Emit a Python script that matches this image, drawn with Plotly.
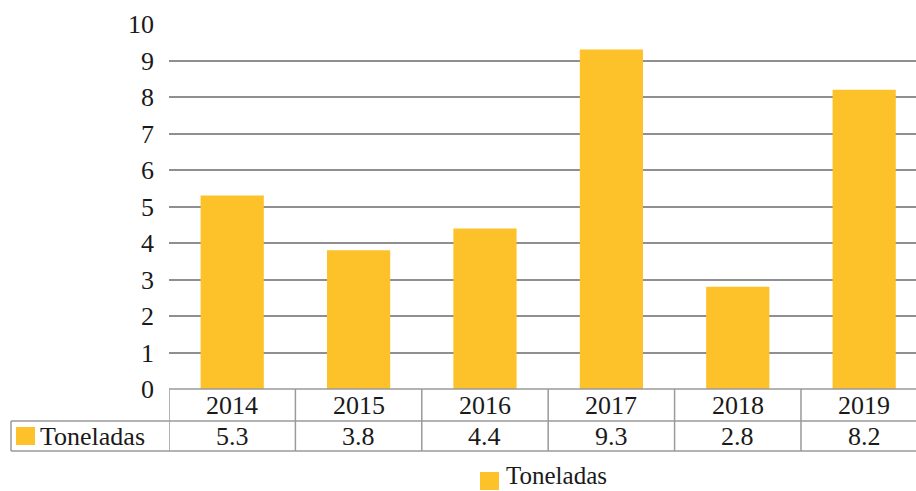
import plotly.graph_objects as go

years = ["2014", "2015", "2016", "2017", "2018", "2019"]
toneladas = [5.3, 3.8, 4.4, 9.3, 2.8, 8.2]
value_labels = ["5.3", "3.8", "4.4", "9.3", "2.8", "8.2"]
series_name = "Toneladas"
y_ticks = list(range(0, 11))

W, H = 916, 491
BAR = "#FDC12A"
GRID = "#8f8f8f"
TABLE = "#9a9a9a"
FONT = "Liberation Serif"
TXT = "#1a1a1a"
FS = 26

x_idx = list(range(len(years)))

def py(px):
    return 1 - px / H

fig = go.Figure()
fig.add_trace(go.Bar(
    x=x_idx, y=toneladas, name=series_name, marker_color=BAR,
    marker_line_width=0, width=0.5, showlegend=False,
))

x0p = 169 / W
fig.update_layout(
    width=W, height=H, autosize=False,
    margin=dict(l=0, r=0, t=0, b=0, pad=0, autoexpand=False),
    paper_bgcolor="white", plot_bgcolor="white",
    font=dict(family=FONT, size=FS, color=TXT),
    xaxis=dict(domain=[x0p, 1], range=[-0.5, 5.41], showticklabels=False,
               showgrid=False, zeroline=False, showline=False, fixedrange=True,
               automargin=False),
    yaxis=dict(domain=[py(389), py(24)], range=[0, 10], tickvals=y_ticks,
               showgrid=True, gridcolor=GRID, gridwidth=1.5, zeroline=False,
               showline=False, ticks="", automargin=False, ticklabelstandoff=14,
               tickfont=dict(family=FONT, size=FS, color=TXT)),
    bargap=0.5,
)

shapes = []
row_top, row_mid, row_bot = 389, 421, 451
shapes.append(dict(type="line", xref="paper", yref="paper", x0=x0p, x1=1,
                   y0=py(row_top), y1=py(row_top), line=dict(color=TABLE, width=1.5)))
shapes.append(dict(type="line", xref="paper", yref="paper", x0=11 / W, x1=1,
                   y0=py(row_mid), y1=py(row_mid), line=dict(color=TABLE, width=1.5)))
shapes.append(dict(type="line", xref="paper", yref="paper", x0=11 / W, x1=1,
                   y0=py(row_bot), y1=py(row_bot), line=dict(color=TABLE, width=1.5)))
for k in range(len(years)):
    shapes.append(dict(type="line", xref="x", yref="paper", x0=k - 0.5, x1=k - 0.5,
                       y0=py(row_top), y1=py(row_bot), line=dict(color=TABLE, width=1.5)))
shapes.append(dict(type="line", xref="paper", yref="paper", x0=11 / W, x1=11 / W,
                   y0=py(row_mid), y1=py(row_bot), line=dict(color=TABLE, width=1.5)))
shapes.append(dict(type="rect", xref="paper", yref="paper", x0=16 / W, x1=35 / W,
                   y0=py(445), y1=py(427), fillcolor=BAR, line=dict(width=0)))
shapes.append(dict(type="rect", xref="paper", yref="paper", x0=480 / W, x1=499 / W,
                   y0=py(490), y1=py(472), fillcolor=BAR, line=dict(width=0)))

annotations = []
for i, (yr, v) in enumerate(zip(years, value_labels)):
    annotations.append(dict(x=i, y=py(405), xref="x", yref="paper", text=yr,
                            xanchor="center", yanchor="middle",
                            showarrow=False, font=dict(size=FS, family=FONT, color=TXT)))
    annotations.append(dict(x=i, y=py(436), xref="x", yref="paper", text=v,
                            xanchor="center", yanchor="middle",
                            showarrow=False, font=dict(size=FS, family=FONT, color=TXT)))
annotations.append(dict(x=38 / W, y=py(436), xref="paper", yref="paper", text=series_name,
                        xanchor="left", yanchor="middle", showarrow=False,
                        font=dict(size=FS, family=FONT, color=TXT)))
annotations.append(dict(x=504 / W, y=py(475.5), xref="paper", yref="paper", text=series_name,
                        xanchor="left", yanchor="middle", showarrow=False,
                        font=dict(size=25, family=FONT, color=TXT)))

fig.update_layout(shapes=shapes, annotations=annotations)
fig.write_html("out.html", config={"displayModeBar": False},
               post_script="document.body.style.margin='0';document.body.style.overflow='hidden';")
